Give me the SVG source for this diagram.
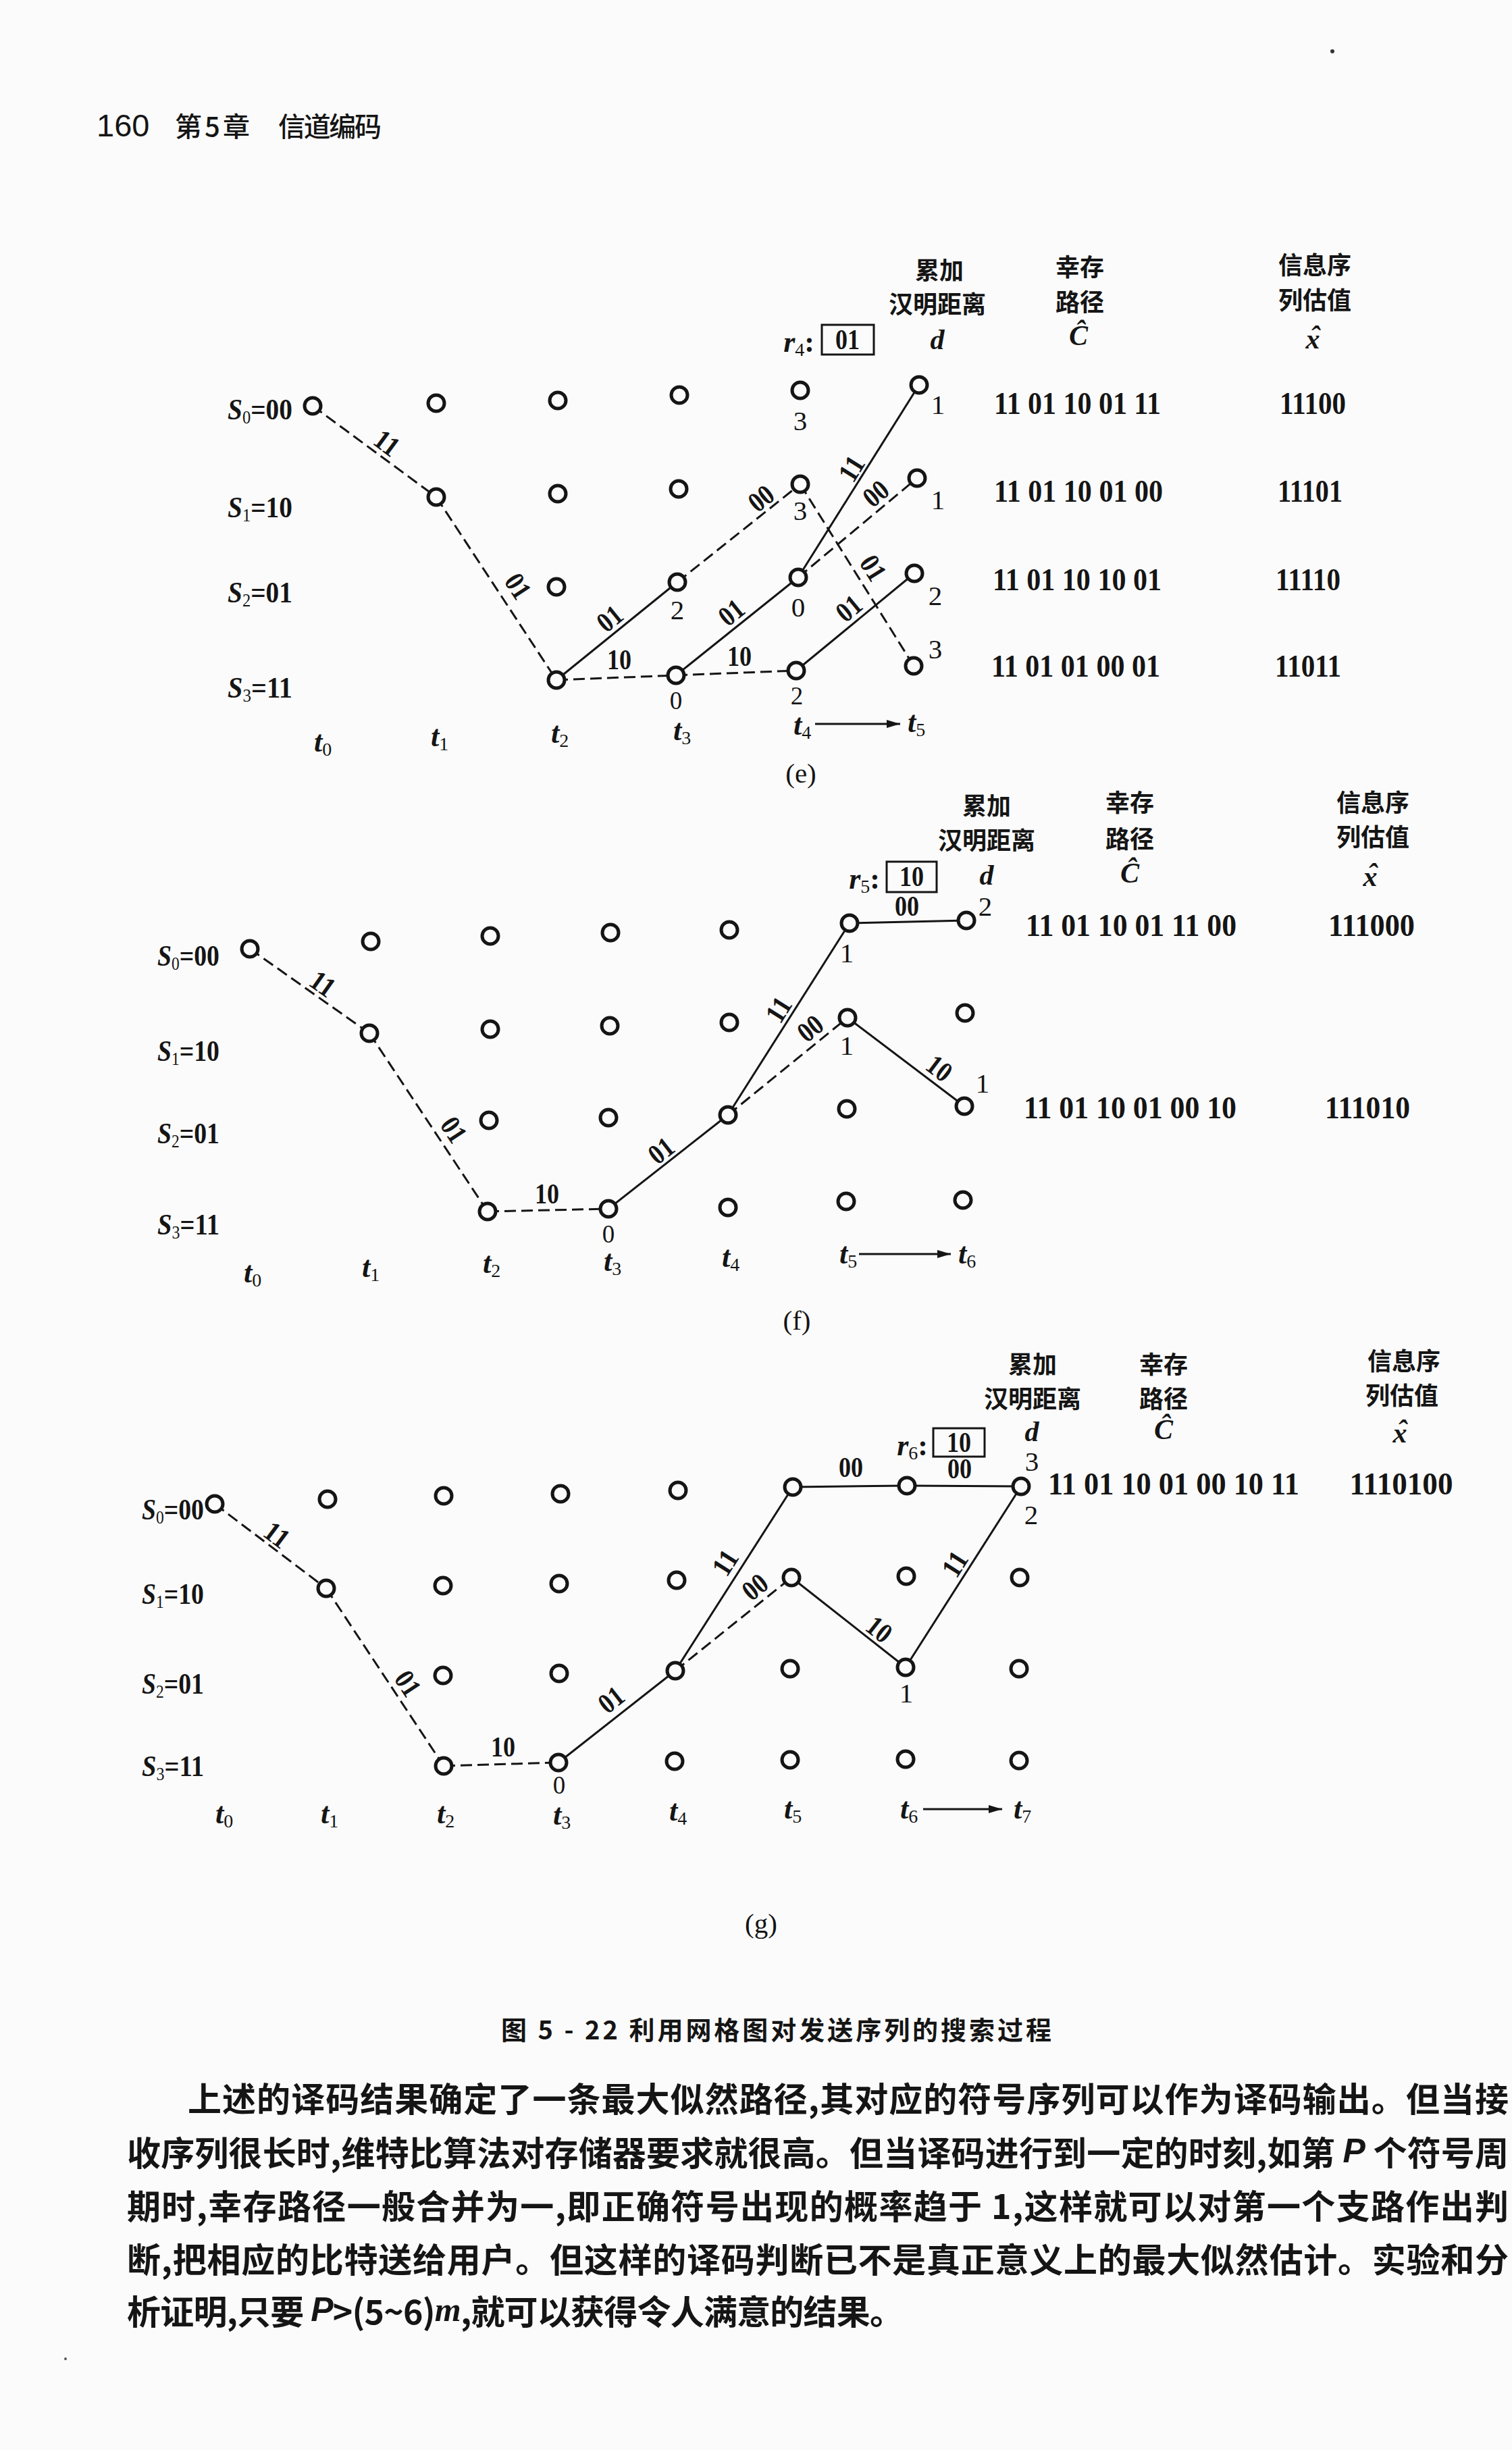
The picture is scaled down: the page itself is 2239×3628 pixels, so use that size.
<svg xmlns="http://www.w3.org/2000/svg" width="2239" height="3628" viewBox="0 0 2239 3628">
<defs>
<style>
.nd circle{fill:#fbfbfb;stroke:#151515;stroke-width:5}
.c line{stroke:#151515;stroke-width:3}
.c line.d{stroke-dasharray:17 8}
text{fill:#151515}
.lb{font-family:"Liberation Serif",serif;font-weight:bold;font-size:42px;text-anchor:middle;dominant-baseline:central}
.v{font-family:"Liberation Serif",serif;font-size:41px;text-anchor:middle;dominant-baseline:central}
.vs{font-family:"Liberation Serif",serif;font-size:37px;text-anchor:middle;dominant-baseline:central}
.sl{font-family:"Liberation Serif",serif;font-weight:bold;font-size:45px;dominant-baseline:central}
.tl{font-family:"Liberation Serif",serif;font-weight:bold;font-style:italic;font-size:44px;dominant-baseline:central}
.cj{font-family:"Noto Sans CJK SC",sans-serif;font-weight:bold;font-size:36px;text-anchor:middle;dominant-baseline:central}
.p{font-family:"Liberation Serif",serif;font-weight:bold;font-size:46px;dominant-baseline:central}
.i{font-family:"Liberation Serif",serif;font-weight:bold;font-size:46px;text-anchor:middle;dominant-baseline:central}
.it{font-family:"Liberation Serif",serif;font-weight:bold;font-style:italic;font-size:42px;text-anchor:middle;dominant-baseline:central}
.box{fill:none;stroke:#151515;stroke-width:3}
.body{font-family:"Noto Sans CJK SC",sans-serif;font-weight:bold;font-size:50px;dominant-baseline:central}
</style>
<marker id="ar" viewBox="0 0 20 12" refX="20" refY="6" markerWidth="20" markerHeight="12" markerUnits="userSpaceOnUse" orient="auto">
<path d="M0,0 L20,6 L0,12 Z" fill="#151515"/>
</marker>
</defs>
<rect width="2239" height="3628" fill="#fbfbfb"/>

<!-- page header -->
<g id="header">
<text x="143" y="185" font-family="Liberation Sans,sans-serif" font-size="47" dominant-baseline="central">160</text>
<text x="259" y="185" font-family="Noto Sans CJK SC,sans-serif" font-weight="500" font-size="40" dominant-baseline="central" textLength="111">第 5 章</text>
<text x="412" y="185" font-family="Noto Sans CJK SC,sans-serif" font-weight="500" font-size="40" dominant-baseline="central" textLength="153">信道编码</text>
<circle cx="1973" cy="76" r="3" fill="#333"/>
</g>

<!-- ================= connectors ================= -->
<g id="connectors" class="c">
<!-- panel e -->
<line class="d" x1="463" y1="601" x2="646" y2="736"/>
<line class="d" x1="646" y1="736" x2="824" y2="1007"/>
<line class="d" x1="824" y1="1007" x2="1001" y2="1000"/>
<line class="d" x1="1003" y1="862" x2="1185" y2="717"/>
<line class="d" x1="1001" y1="1000" x2="1179" y2="993"/>
<line class="d" x1="1182" y1="855" x2="1358" y2="708"/>
<line class="d" x1="1185" y1="717" x2="1353" y2="986"/>
<line x1="824" y1="1007" x2="1003" y2="862"/>
<line x1="1001" y1="1000" x2="1182" y2="855"/>
<line x1="1182" y1="855" x2="1361" y2="570"/>
<line x1="1179" y1="993" x2="1354" y2="849"/>
<line x1="1207" y1="1072" x2="1333" y2="1072" marker-end="url(#ar)"/>
<!-- panel f -->
<line class="d" x1="370" y1="1405" x2="547" y2="1530"/>
<line class="d" x1="547" y1="1530" x2="722" y2="1794"/>
<line class="d" x1="722" y1="1794" x2="901" y2="1790"/>
<line class="d" x1="1078" y1="1651" x2="1255" y2="1507"/>
<line x1="901" y1="1790" x2="1078" y2="1651"/>
<line x1="1078" y1="1651" x2="1258" y2="1367"/>
<line x1="1258" y1="1367" x2="1431" y2="1363"/>
<line x1="1255" y1="1507" x2="1428" y2="1638"/>
<line x1="1272" y1="1857" x2="1408" y2="1857" marker-end="url(#ar)"/>
<!-- panel g -->
<line class="d" x1="318" y1="2227" x2="483" y2="2352"/>
<line class="d" x1="483" y1="2352" x2="657" y2="2615"/>
<line class="d" x1="657" y1="2615" x2="827" y2="2610"/>
<line class="d" x1="1000" y1="2474" x2="1172" y2="2336"/>
<line x1="827" y1="2610" x2="1000" y2="2474"/>
<line x1="1000" y1="2474" x2="1174" y2="2202"/>
<line x1="1174" y1="2202" x2="1343" y2="2200"/>
<line x1="1343" y1="2200" x2="1512" y2="2201"/>
<line x1="1172" y1="2336" x2="1341" y2="2469"/>
<line x1="1341" y1="2469" x2="1512" y2="2201"/>
<line x1="1367" y1="2679" x2="1484" y2="2679" marker-end="url(#ar)"/>

<!-- edge labels e -->
<text class="lb" x="573" y="656" transform="rotate(36.4 573 656)" textLength="36" lengthAdjust="spacingAndGlyphs">11</text>
<text class="lb" x="767" y="868" transform="rotate(56.7 767 868)" textLength="36" lengthAdjust="spacingAndGlyphs">01</text>
<text class="lb" x="903" y="916" transform="rotate(-39 903 916)" textLength="36" lengthAdjust="spacingAndGlyphs">01</text>
<text class="lb" x="917" y="977" textLength="36" lengthAdjust="spacingAndGlyphs">10</text>
<text class="lb" x="1127" y="738" transform="rotate(-38.5 1127 738)" textLength="36" lengthAdjust="spacingAndGlyphs">00</text>
<text class="lb" x="1083" y="907" transform="rotate(-38.7 1083 907)" textLength="36" lengthAdjust="spacingAndGlyphs">01</text>
<text class="lb" x="1095" y="972" textLength="36" lengthAdjust="spacingAndGlyphs">10</text>
<text class="lb" x="1261" y="694" transform="rotate(-57.9 1261 694)" textLength="36" lengthAdjust="spacingAndGlyphs">11</text>
<text class="lb" x="1297" y="731" transform="rotate(-39.9 1297 731)" textLength="36" lengthAdjust="spacingAndGlyphs">00</text>
<text class="lb" x="1293" y="841" transform="rotate(58 1293 841)" textLength="36" lengthAdjust="spacingAndGlyphs">01</text>
<text class="lb" x="1257" y="901" transform="rotate(-39.4 1257 901)" textLength="36" lengthAdjust="spacingAndGlyphs">01</text>
<!-- edge labels f -->
<text class="lb" x="478" y="1457" transform="rotate(35.2 478 1457)" textLength="36" lengthAdjust="spacingAndGlyphs">11</text>
<text class="lb" x="672" y="1673" transform="rotate(56.5 672 1673)" textLength="36" lengthAdjust="spacingAndGlyphs">01</text>
<text class="lb" x="810" y="1768" textLength="36" lengthAdjust="spacingAndGlyphs">10</text>
<text class="lb" x="979" y="1704" transform="rotate(-38.1 979 1704)" textLength="36" lengthAdjust="spacingAndGlyphs">01</text>
<text class="lb" x="1153" y="1495" transform="rotate(-57.6 1153 1495)" textLength="36" lengthAdjust="spacingAndGlyphs">11</text>
<text class="lb" x="1200" y="1523" transform="rotate(-39.1 1200 1523)" textLength="36" lengthAdjust="spacingAndGlyphs">00</text>
<text class="lb" x="1343" y="1342" textLength="36" lengthAdjust="spacingAndGlyphs">00</text>
<text class="lb" x="1391" y="1582" transform="rotate(37.1 1391 1582)" textLength="36" lengthAdjust="spacingAndGlyphs">10</text>
<!-- edge labels g -->
<text class="lb" x="410" y="2273" transform="rotate(37.1 410 2273)" textLength="36" lengthAdjust="spacingAndGlyphs">11</text>
<text class="lb" x="604" y="2493" transform="rotate(56.5 604 2493)" textLength="36" lengthAdjust="spacingAndGlyphs">01</text>
<text class="lb" x="745" y="2587" textLength="36" lengthAdjust="spacingAndGlyphs">10</text>
<text class="lb" x="905" y="2517" transform="rotate(-38.2 905 2517)" textLength="36" lengthAdjust="spacingAndGlyphs">01</text>
<text class="lb" x="1074" y="2314" transform="rotate(-57.4 1074 2314)" textLength="36" lengthAdjust="spacingAndGlyphs">11</text>
<text class="lb" x="1118" y="2350" transform="rotate(-38.7 1118 2350)" textLength="36" lengthAdjust="spacingAndGlyphs">00</text>
<text class="lb" x="1260" y="2173" textLength="36" lengthAdjust="spacingAndGlyphs">00</text>
<text class="lb" x="1421" y="2175" textLength="36" lengthAdjust="spacingAndGlyphs">00</text>
<text class="lb" x="1302" y="2413" transform="rotate(38.2 1302 2413)" textLength="36" lengthAdjust="spacingAndGlyphs">10</text>
<text class="lb" x="1414" y="2316" transform="rotate(-57.5 1414 2316)" textLength="36" lengthAdjust="spacingAndGlyphs">11</text>
</g>

<!-- ================= nodes panel e ================= -->
<g class="nd">
<g id="e-t0-s0"><circle cx="463" cy="601" r="12"/></g>
<g id="e-t1-s0"><circle cx="646" cy="597" r="12"/></g>
<g id="e-t1-s1"><circle cx="646" cy="736" r="12"/></g>
<g id="e-t2-s0"><circle cx="826" cy="593" r="12"/></g>
<g id="e-t2-s1"><circle cx="826" cy="731" r="12"/></g>
<g id="e-t2-s2"><circle cx="824" cy="869" r="12"/></g>
<g id="e-t2-s3"><circle cx="824" cy="1007" r="12"/></g>
<g id="e-t3-s0"><circle cx="1006" cy="585" r="12"/></g>
<g id="e-t3-s1"><circle cx="1005" cy="724" r="12"/></g>
<g id="e-t3-s2"><circle cx="1003" cy="862" r="12"/></g>
<g id="e-t3-s3"><circle cx="1001" cy="1000" r="12"/></g>
<g id="e-t4-s0"><circle cx="1185" cy="578" r="12"/></g>
<g id="e-t4-s1"><circle cx="1185" cy="717" r="12"/></g>
<g id="e-t4-s2"><circle cx="1182" cy="855" r="12"/></g>
<g id="e-t4-s3"><circle cx="1179" cy="993" r="12"/></g>
<g id="e-t5-s0"><circle cx="1361" cy="570" r="12"/></g>
<g id="e-t5-s1"><circle cx="1358" cy="708" r="12"/></g>
<g id="e-t5-s2"><circle cx="1354" cy="849" r="12"/></g>
<g id="e-t5-s3"><circle cx="1353" cy="986" r="12"/></g>
</g>
<!-- ================= nodes panel f ================= -->
<g class="nd">
<g id="f-t0-s0"><circle cx="370" cy="1405" r="12"/></g>
<g id="f-t1-s0"><circle cx="549" cy="1394" r="12"/></g>
<g id="f-t1-s1"><circle cx="547" cy="1530" r="12"/></g>
<g id="f-t2-s0"><circle cx="726" cy="1386" r="12"/></g>
<g id="f-t2-s1"><circle cx="726" cy="1524" r="12"/></g>
<g id="f-t2-s2"><circle cx="724" cy="1659" r="12"/></g>
<g id="f-t2-s3"><circle cx="722" cy="1794" r="12"/></g>
<g id="f-t3-s0"><circle cx="904" cy="1381" r="12"/></g>
<g id="f-t3-s1"><circle cx="903" cy="1519" r="12"/></g>
<g id="f-t3-s2"><circle cx="901" cy="1655" r="12"/></g>
<g id="f-t3-s3"><circle cx="901" cy="1790" r="12"/></g>
<g id="f-t4-s0"><circle cx="1080" cy="1377" r="12"/></g>
<g id="f-t4-s1"><circle cx="1080" cy="1514" r="12"/></g>
<g id="f-t4-s2"><circle cx="1078" cy="1651" r="12"/></g>
<g id="f-t4-s3"><circle cx="1078" cy="1788" r="12"/></g>
<g id="f-t5-s0"><circle cx="1258" cy="1367" r="12"/></g>
<g id="f-t5-s1"><circle cx="1255" cy="1507" r="12"/></g>
<g id="f-t5-s2"><circle cx="1254" cy="1642" r="12"/></g>
<g id="f-t5-s3"><circle cx="1253" cy="1779" r="12"/></g>
<g id="f-t6-s0"><circle cx="1431" cy="1363" r="12"/></g>
<g id="f-t6-s1"><circle cx="1429" cy="1500" r="12"/></g>
<g id="f-t6-s2"><circle cx="1428" cy="1638" r="12"/></g>
<g id="f-t6-s3"><circle cx="1426" cy="1777" r="12"/></g>
</g>
<!-- ================= nodes panel g ================= -->
<g class="nd">
<g id="g-t0-s0"><circle cx="318" cy="2227" r="12"/></g>
<g id="g-t1-s0"><circle cx="485" cy="2220" r="12"/></g>
<g id="g-t1-s1"><circle cx="483" cy="2352" r="12"/></g>
<g id="g-t2-s0"><circle cx="657" cy="2215" r="12"/></g>
<g id="g-t2-s1"><circle cx="656" cy="2348" r="12"/></g>
<g id="g-t2-s2"><circle cx="656" cy="2481" r="12"/></g>
<g id="g-t2-s3"><circle cx="657" cy="2615" r="12"/></g>
<g id="g-t3-s0"><circle cx="830" cy="2212" r="12"/></g>
<g id="g-t3-s1"><circle cx="828" cy="2345" r="12"/></g>
<g id="g-t3-s2"><circle cx="828" cy="2478" r="12"/></g>
<g id="g-t3-s3"><circle cx="827" cy="2610" r="12"/></g>
<g id="g-t4-s0"><circle cx="1004" cy="2207" r="12"/></g>
<g id="g-t4-s1"><circle cx="1002" cy="2340" r="12"/></g>
<g id="g-t4-s2"><circle cx="1000" cy="2474" r="12"/></g>
<g id="g-t4-s3"><circle cx="999" cy="2608" r="12"/></g>
<g id="g-t5-s0"><circle cx="1174" cy="2202" r="12"/></g>
<g id="g-t5-s1"><circle cx="1172" cy="2336" r="12"/></g>
<g id="g-t5-s2"><circle cx="1170" cy="2471" r="12"/></g>
<g id="g-t5-s3"><circle cx="1170" cy="2606" r="12"/></g>
<g id="g-t6-s0"><circle cx="1343" cy="2200" r="12"/></g>
<g id="g-t6-s1"><circle cx="1342" cy="2334" r="12"/></g>
<g id="g-t6-s2"><circle cx="1341" cy="2469" r="12"/></g>
<g id="g-t6-s3"><circle cx="1341" cy="2605" r="12"/></g>
<g id="g-t7-s0"><circle cx="1512" cy="2201" r="12"/></g>
<g id="g-t7-s1"><circle cx="1510" cy="2336" r="12"/></g>
<g id="g-t7-s2"><circle cx="1509" cy="2471" r="12"/></g>
<g id="g-t7-s3"><circle cx="1509" cy="2607" r="12"/></g>
</g>

<!-- ================= panel e texts ================= -->
<g id="panel-e-labels">
<text class="sl" x="337" y="606" textLength="96" lengthAdjust="spacingAndGlyphs"><tspan font-style="italic">S</tspan><tspan font-size="28" font-weight="normal" dy="11">0</tspan><tspan dy="-11">=00</tspan></text>
<text class="sl" x="337" y="751" textLength="96" lengthAdjust="spacingAndGlyphs"><tspan font-style="italic">S</tspan><tspan font-size="28" font-weight="normal" dy="11">1</tspan><tspan dy="-11">=10</tspan></text>
<text class="sl" x="337" y="877" textLength="96" lengthAdjust="spacingAndGlyphs"><tspan font-style="italic">S</tspan><tspan font-size="28" font-weight="normal" dy="11">2</tspan><tspan dy="-11">=01</tspan></text>
<text class="sl" x="337" y="1018" textLength="96" lengthAdjust="spacingAndGlyphs"><tspan font-style="italic">S</tspan><tspan font-size="28" font-weight="normal" dy="11">3</tspan><tspan dy="-11">=11</tspan></text>
<text class="tl" x="465" y="1098">t<tspan font-size="28" font-style="normal" font-weight="normal" dy="11">0</tspan></text>
<text class="tl" x="638" y="1090">t<tspan font-size="28" font-style="normal" font-weight="normal" dy="11">1</tspan></text>
<text class="tl" x="816" y="1085">t<tspan font-size="28" font-style="normal" font-weight="normal" dy="11">2</tspan></text>
<text class="tl" x="997" y="1081">t<tspan font-size="28" font-style="normal" font-weight="normal" dy="11">3</tspan></text>
<text class="tl" x="1175" y="1073">t<tspan font-size="28" font-style="normal" font-weight="normal" dy="11">4</tspan></text>
<text class="tl" x="1344" y="1069">t<tspan font-size="28" font-style="normal" font-weight="normal" dy="11">5</tspan></text>
<text class="v" x="1003" y="903">2</text>
<text class="vs" x="1001" y="1037">0</text>
<text class="v" x="1185" y="623">3</text>
<text class="v" x="1185" y="756">3</text>
<text class="v" x="1182" y="899">0</text>
<text class="vs" x="1180" y="1030">2</text>
<text class="v" x="1389" y="599">1</text>
<text class="v" x="1389" y="740">1</text>
<text class="v" x="1385" y="882">2</text>
<text class="v" x="1385" y="961">3</text>
<text class="tl" x="1206" y="506" text-anchor="end">r<tspan font-size="28" font-style="normal" font-weight="normal" dy="11">4</tspan><tspan dy="-11" font-style="normal">:</tspan></text>
<rect class="box" x="1217" y="481" width="77" height="44"/>
<text class="lb" x="1255" y="503" textLength="36" lengthAdjust="spacingAndGlyphs">01</text>
<text class="cj" x="1391" y="398">累加</text>
<text class="cj" x="1388" y="448">汉明距离</text>
<text class="it" x="1388" y="503">d</text>
<text class="cj" x="1599" y="393">幸存</text>
<text class="cj" x="1599" y="445">路径</text>
<text class="it" x="1597" y="497">Ĉ</text>
<text class="cj" x="1947" y="390">信息序</text>
<text class="cj" x="1947" y="442">列估值</text>
<text class="it" x="1944" y="502">x</text>
<text class="it" x="1947" y="498">ˆ</text>
<text class="p" x="1472" y="597" textLength="247" lengthAdjust="spacingAndGlyphs">11 01 10 01 11</text>
<text class="p" x="1472" y="727" textLength="250" lengthAdjust="spacingAndGlyphs">11 01 10 01 00</text>
<text class="p" x="1470" y="858" textLength="250" lengthAdjust="spacingAndGlyphs">11 01 10 10 01</text>
<text class="p" x="1468" y="986" textLength="250" lengthAdjust="spacingAndGlyphs">11 01 01 00 01</text>
<text class="i" x="1944" y="597" textLength="98" lengthAdjust="spacingAndGlyphs">11100</text>
<text class="i" x="1940" y="727" textLength="96" lengthAdjust="spacingAndGlyphs">11101</text>
<text class="i" x="1937" y="858" textLength="96" lengthAdjust="spacingAndGlyphs">11110</text>
<text class="i" x="1937" y="986" textLength="98" lengthAdjust="spacingAndGlyphs">11011</text>
<text class="v" x="1186" y="1145">(e)</text>
</g>

<!-- ================= panel f texts ================= -->
<g id="panel-f-labels">
<text class="sl" x="233" y="1415" textLength="92" lengthAdjust="spacingAndGlyphs"><tspan font-style="italic">S</tspan><tspan font-size="28" font-weight="normal" dy="11">0</tspan><tspan dy="-11">=00</tspan></text>
<text class="sl" x="233" y="1556" textLength="92" lengthAdjust="spacingAndGlyphs"><tspan font-style="italic">S</tspan><tspan font-size="28" font-weight="normal" dy="11">1</tspan><tspan dy="-11">=10</tspan></text>
<text class="sl" x="233" y="1678" textLength="92" lengthAdjust="spacingAndGlyphs"><tspan font-style="italic">S</tspan><tspan font-size="28" font-weight="normal" dy="11">2</tspan><tspan dy="-11">=01</tspan></text>
<text class="sl" x="233" y="1813" textLength="92" lengthAdjust="spacingAndGlyphs"><tspan font-style="italic">S</tspan><tspan font-size="28" font-weight="normal" dy="11">3</tspan><tspan dy="-11">=11</tspan></text>
<text class="tl" x="361" y="1884">t<tspan font-size="28" font-style="normal" font-weight="normal" dy="11">0</tspan></text>
<text class="tl" x="536" y="1876">t<tspan font-size="28" font-style="normal" font-weight="normal" dy="11">1</tspan></text>
<text class="tl" x="715" y="1870">t<tspan font-size="28" font-style="normal" font-weight="normal" dy="11">2</tspan></text>
<text class="tl" x="894" y="1867">t<tspan font-size="28" font-style="normal" font-weight="normal" dy="11">3</tspan></text>
<text class="tl" x="1069" y="1861">t<tspan font-size="28" font-style="normal" font-weight="normal" dy="11">4</tspan></text>
<text class="tl" x="1243" y="1856">t<tspan font-size="28" font-style="normal" font-weight="normal" dy="11">5</tspan></text>
<text class="tl" x="1419" y="1856">t<tspan font-size="28" font-style="normal" font-weight="normal" dy="11">6</tspan></text>
<text class="vs" x="901" y="1827">0</text>
<text class="v" x="1254" y="1411">1</text>
<text class="v" x="1254" y="1548">1</text>
<text class="v" x="1459" y="1342">2</text>
<text class="v" x="1455" y="1604">1</text>
<text class="tl" x="1303" y="1301" text-anchor="end">r<tspan font-size="28" font-style="normal" font-weight="normal" dy="11">5</tspan><tspan dy="-11" font-style="normal">:</tspan></text>
<rect class="box" x="1313" y="1276" width="74" height="45"/>
<text class="lb" x="1350" y="1298" textLength="36" lengthAdjust="spacingAndGlyphs">10</text>
<text class="cj" x="1461" y="1191">累加</text>
<text class="cj" x="1461" y="1242">汉明距离</text>
<text class="it" x="1461" y="1296">d</text>
<text class="cj" x="1673" y="1186">幸存</text>
<text class="cj" x="1673" y="1240">路径</text>
<text class="it" x="1673" y="1293">Ĉ</text>
<text class="cj" x="2033" y="1186">信息序</text>
<text class="cj" x="2033" y="1237">列估值</text>
<text class="it" x="2029" y="1298">x</text>
<text class="it" x="2032" y="1294">ˆ</text>
<text class="p" x="1519" y="1370" textLength="312" lengthAdjust="spacingAndGlyphs">11 01 10 01 11 00</text>
<text class="p" x="1516" y="1640" textLength="315" lengthAdjust="spacingAndGlyphs">11 01 10 01 00 10</text>
<text class="i" x="2031" y="1370" textLength="128" lengthAdjust="spacingAndGlyphs">111000</text>
<text class="i" x="2025" y="1640" textLength="126" lengthAdjust="spacingAndGlyphs">111010</text>
<text class="v" x="1180" y="1955">(f)</text>
</g>

<!-- ================= panel g texts ================= -->
<g id="panel-g-labels">
<text class="sl" x="210" y="2235" textLength="92" lengthAdjust="spacingAndGlyphs"><tspan font-style="italic">S</tspan><tspan font-size="28" font-weight="normal" dy="11">0</tspan><tspan dy="-11">=00</tspan></text>
<text class="sl" x="210" y="2360" textLength="92" lengthAdjust="spacingAndGlyphs"><tspan font-style="italic">S</tspan><tspan font-size="28" font-weight="normal" dy="11">1</tspan><tspan dy="-11">=10</tspan></text>
<text class="sl" x="210" y="2493" textLength="92" lengthAdjust="spacingAndGlyphs"><tspan font-style="italic">S</tspan><tspan font-size="28" font-weight="normal" dy="11">2</tspan><tspan dy="-11">=01</tspan></text>
<text class="sl" x="210" y="2615" textLength="92" lengthAdjust="spacingAndGlyphs"><tspan font-style="italic">S</tspan><tspan font-size="28" font-weight="normal" dy="11">3</tspan><tspan dy="-11">=11</tspan></text>
<text class="tl" x="319" y="2685">t<tspan font-size="28" font-style="normal" font-weight="normal" dy="11">0</tspan></text>
<text class="tl" x="475" y="2685">t<tspan font-size="28" font-style="normal" font-weight="normal" dy="11">1</tspan></text>
<text class="tl" x="647" y="2685">t<tspan font-size="28" font-style="normal" font-weight="normal" dy="11">2</tspan></text>
<text class="tl" x="819" y="2687">t<tspan font-size="28" font-style="normal" font-weight="normal" dy="11">3</tspan></text>
<text class="tl" x="991" y="2681">t<tspan font-size="28" font-style="normal" font-weight="normal" dy="11">4</tspan></text>
<text class="tl" x="1161" y="2678">t<tspan font-size="28" font-style="normal" font-weight="normal" dy="11">5</tspan></text>
<text class="tl" x="1333" y="2678">t<tspan font-size="28" font-style="normal" font-weight="normal" dy="11">6</tspan></text>
<text class="tl" x="1501" y="2678">t<tspan font-size="28" font-style="normal" font-weight="normal" dy="11">7</tspan></text>
<text class="vs" x="828" y="2643">0</text>
<text class="v" x="1342" y="2507">1</text>
<text class="v" x="1528" y="2164">3</text>
<text class="v" x="1527" y="2243">2</text>
<text class="tl" x="1374" y="2140" text-anchor="end">r<tspan font-size="28" font-style="normal" font-weight="normal" dy="11">6</tspan><tspan dy="-11" font-style="normal">:</tspan></text>
<rect class="box" x="1382" y="2115" width="76" height="42"/>
<text class="lb" x="1420" y="2136" textLength="36" lengthAdjust="spacingAndGlyphs">10</text>
<text class="cj" x="1529" y="2018">累加</text>
<text class="cj" x="1529" y="2069">汉明距离</text>
<text class="it" x="1528" y="2120">d</text>
<text class="cj" x="1723" y="2018">幸存</text>
<text class="cj" x="1723" y="2069">路径</text>
<text class="it" x="1723" y="2117">Ĉ</text>
<text class="cj" x="2079" y="2013">信息序</text>
<text class="cj" x="2076" y="2064">列估值</text>
<text class="it" x="2073" y="2122">x</text>
<text class="it" x="2076" y="2118">ˆ</text>
<text class="p" x="1552" y="2197" textLength="372" lengthAdjust="spacingAndGlyphs">11 01 10 01 00 10 11</text>
<text class="i" x="2075" y="2197" textLength="153" lengthAdjust="spacingAndGlyphs">1110100</text>
<text class="v" x="1127" y="2848">(g)</text>
</g>

<!-- ================= caption and body ================= -->
<g id="caption">
<text x="742" y="3003" font-family="Noto Sans CJK SC,sans-serif" font-weight="bold" font-size="38" dominant-baseline="central" textLength="815">图 5 - 22  利用网格图对发送序列的搜索过程</text>
</g>
<g id="body-text">
<text class="body" x="278" y="3105" textLength="1956">上述的译码结果确定了一条最大似然路径,其对应的符号序列可以作为译码输出。但当接</text>
<text class="body" x="188" y="3185" textLength="2046">收序列很长时,维特比算法对存储器要求就很高。但当译码进行到一定的时刻,如第 <tspan font-family="Liberation Sans,sans-serif" font-style="italic">P</tspan> 个符号周</text>
<text class="body" x="188" y="3264" textLength="2046">期时,幸存路径一般合并为一,即正确符号出现的概率趋于 1,这样就可以对第一个支路作出判</text>
<text class="body" x="188" y="3343" textLength="2046">断,把相应的比特送给用户。但这样的译码判断已不是真正意义上的最大似然估计。实验和分</text>
<text class="body" x="188" y="3420" textLength="1150">析证明,只要 <tspan font-family="Liberation Sans,sans-serif" font-style="italic">P</tspan>&gt;(5~6)<tspan font-family="Liberation Serif,serif" font-style="italic">m</tspan>,就可以获得令人满意的结果。</text>
<circle cx="97" cy="3493" r="2" fill="#555"/>
</g>
</svg>
